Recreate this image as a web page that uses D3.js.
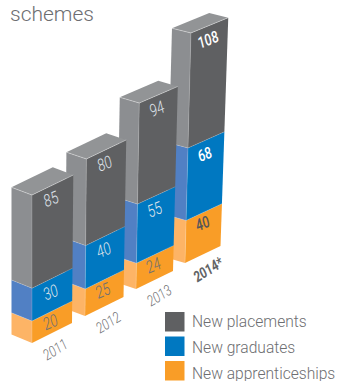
<!DOCTYPE html>
<html>
<head>
<meta charset="utf-8">
<script src="https://cdnjs.cloudflare.com/ajax/libs/d3/7.8.5/d3.min.js"></script>
<style>
  html, body { margin: 0; padding: 0; background: #fff; overflow: hidden; }
  svg { display: block; }
  text { font-family: "Roboto", "Liberation Sans", sans-serif; }
</style>
</head>
<body>
<svg id="chart" width="338" height="381"></svg>
<script>
// Yearly intake, stacked from the ground up
const years = ["2011", "2012", "2013", "2014*"];
const apprenticeships = [20, 25, 24, 40];
const graduates = [30, 40, 55, 68];
const placements = [85, 80, 94, 108];
const seriesNames = ["New placements", "New graduates", "New apprenticeships"];

const svg = d3.select("#chart");

const frontColors = { a: "#f99d27", g: "#0078c1", p: "#5f6062" };
const sideColors  = { a: "#fdb466", g: "#5180c4", p: "#8c8e91" };
const legendColors = ["#5f6062", "#0078c1", "#f99d27"];
const topColor = "#929496";
const edge = "rgba(255,255,255,0.45)";

// Bars recede into the page: each layout quantity varies along the year index
const idx = [0, 1, 2, 3];
const frontX = d3.scaleLinear().domain(idx).range([32, 85, 136, 185]);
const frontY = d3.scaleLinear().domain(idx).range([343, 316, 289, 263]);
const unit   = d3.scaleLinear().domain(idx).range([1.096, 1.083, 1.075, 1.065]);
const rightW = d3.scaleLinear().domain([0, 3]).range([40, 35.5]);
const rightH = d3.scaleLinear().domain([0, 3]).range([20, 17]);
const leftW  = d3.scaleLinear().domain([0, 3]).range([20.5, 19]);
const leftH  = d3.scaleLinear().domain([0, 3]).range([8.5, 5.5]);
const lean   = d3.scaleLinear().domain([32, 185]).range([0, 0.026]);
const widen  = d3.scaleLinear().domain([0, 230]).range([1, 1.05]);

const poly = d3.line().x(p => p[0]).y(p => p[1]).curve(d3.curveLinearClosed);

// Corner points of a bar's footprint lifted by h pixels
function ring(i, h) {
  const fx = frontX(i), fy = frontY(i);
  const x = fx + lean(fx) * h;
  const y = fy - h;
  const k = widen(h);
  const rw = rightW(i) * k, rh = rightH(i) * (i > 1 ? 1 - (h / 230) * 0.1 : 1);
  const lw = leftW(i), lh = leftH(i) * (1 - (h / 230) * 0.15);
  return {
    front: [x, y],
    right: [x + rw, y - rh],
    left:  [x - lw, y - lh],
    back:  [x + rw - lw, y - rh - lh]
  };
}

// Nearer bars overlap farther ones, so paint from the back forward
d3.range(years.length).reverse().forEach(i => {
  const stack = [
    { key: "a", v: apprenticeships[i] },
    { key: "g", v: graduates[i] },
    { key: "p", v: placements[i] }
  ];
  const g = svg.append("g");
  let sum = 0;
  const bold = i === 3;

  stack.forEach(s => {
    const low = ring(i, sum * unit(i));
    sum += s.v;
    const high = ring(i, sum * unit(i));
    g.append("path").attr("d", poly([low.left, low.front, high.front, high.left]))
      .attr("fill", sideColors[s.key]);
    g.append("path").attr("d", poly([low.front, low.right, high.right, high.front]))
      .attr("fill", frontColors[s.key]);
    s.high = high;
    s.low = low;
  });

  const roof = stack[2].high;
  g.append("path").attr("d", poly([roof.left, roof.front, roof.right, roof.back]))
    .attr("fill", topColor);

  // Fine highlight along the upper edges and the front corner
  const hair = d3.line();
  g.append("path").attr("d", hair([roof.left, roof.front, roof.right]))
    .attr("fill", "none").attr("stroke", edge).attr("stroke-width", 0.8);
  g.append("path").attr("d", hair([stack[0].low.front, roof.front]))
    .attr("fill", "none").attr("stroke", "rgba(255,255,255,0.25)").attr("stroke-width", 0.7);
  stack.slice(1).forEach(s => {
    g.append("path").attr("d", hair([s.low.left, s.low.front, s.low.right]))
      .attr("fill", "none").attr("stroke", "rgba(255,255,255,0.3)").attr("stroke-width", 0.6);
  });

  // Value labels, lying along the front face
  stack.forEach(s => {
    const a = s.high.front, b = s.high.right;
    const mx = (a[0] + b[0]) / 2, my = (a[1] + b[1]) / 2;
    const drop = s.key === "a" ? 10.5 : 13.5;
    const color = s.key === "a"
      ? (bold ? "#55565a" : "#6f7073")
      : (bold ? "#ffffff" : "#dfe3ea");
    g.append("text")
      .attr("transform", `translate(${mx + 0.5},${my + drop + 6}) rotate(-22) scale(0.8,1)`)
      .attr("text-anchor", "middle")
      .attr("font-size", bold ? 16 : 17)
      .attr("font-weight", bold ? 500 : 300)
      .attr("font-style", "italic")
      .attr("fill", color)
      .text(s.v);
  });

  // Year label under the front face
  const fx = frontX(i), fy = frontY(i);
  svg.append("text")
    .attr("transform", `translate(${fx + 26},${fy + 11}) rotate(-32) scale(0.8,1)`)
    .attr("text-anchor", "middle")
    .attr("font-size", 15)
    .attr("font-weight", bold ? 700 : 300)
    .attr("font-style", "italic")
    .attr("fill", bold ? "#636466" : "#6f7073")
    .text(years[i]);
});

svg.append("text")
  .attr("x", 10).attr("y", 21)
  .attr("font-size", 21).attr("font-weight", 300)
  .attr("fill", "#6d6e71")
  .text("schemes");

// Legend rows
const legendY = d3.scalePoint().domain(seriesNames).range([312, 361]);
const legendBase = d3.scalePoint().domain(seriesNames).range([327, 378.5]);
seriesNames.forEach((name, k) => {
  svg.append("rect").attr("x", 165).attr("y", legendY(name)).attr("width", 19.5).attr("height", 19.5)
    .attr("fill", legendColors[k]);
  svg.append("text").attr("x", 192).attr("y", legendBase(name))
    .attr("font-size", 15.6).attr("font-weight", 300).attr("fill", "#6d6e71")
    .text(name);
});
</script>
</body>
</html>
